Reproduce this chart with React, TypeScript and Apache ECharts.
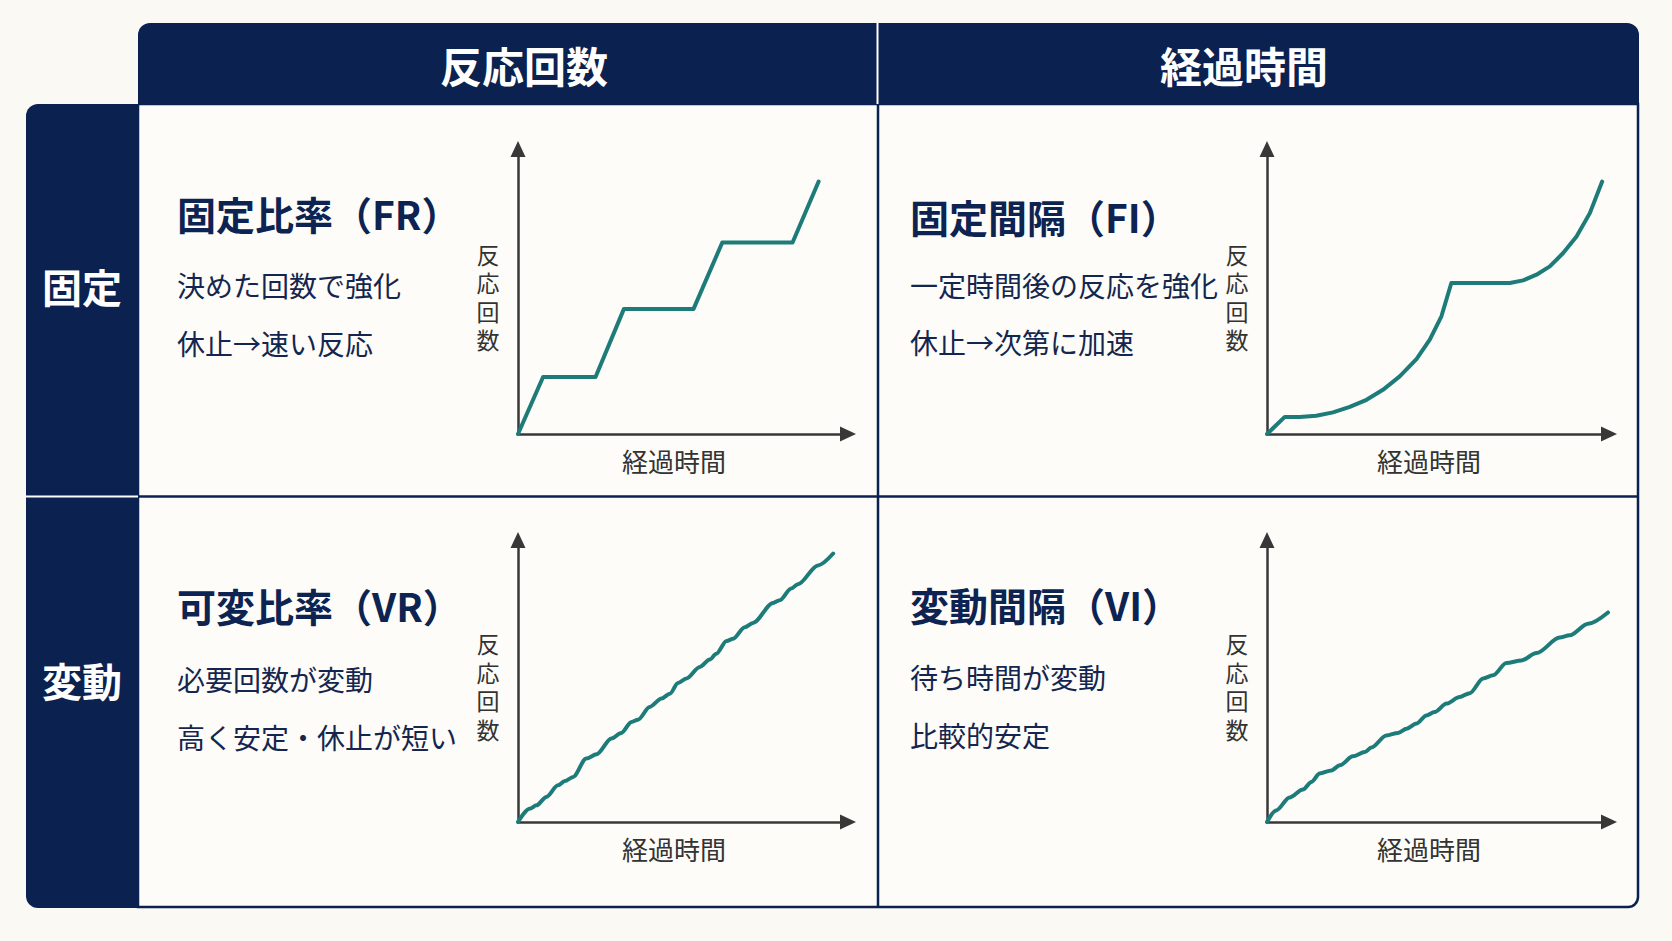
import React, { useEffect, useRef } from "react";
import * as echarts from "echarts";

// ---------- text content ----------
const columnHeaders = ["反応回数", "経過時間"];
const rowHeaders = ["固定", "変動"];
const cellTitles = ["固定比率（FR）", "固定間隔（FI）", "可変比率（VR）", "変動間隔（VI）"];
const cellLine1 = ["決めた回数で強化", "一定時間後の反応を強化", "必要回数が変動", "待ち時間が変動"];
const cellLine2 = ["休止→速い反応", "休止→次第に加速", "高く安定・休止が短い", "比較的安定"];
const yAxisTitle = "反応回数";
const xAxisTitle = "経過時間";

// ---------- data (x: elapsed time, y: cumulative responses; 0..100 scale) ----------
const frData = [
  [0, 0], [7.6, 20], [23.5, 20], [32.1, 43.9], [53.2, 43.9],
  [61.9, 67.2], [83.2, 67.2], [91.1, 88.6],
];
const fiData = [
  [0, 0], [5.2, 6.0], [9.6, 6.0], [14.4, 6.4], [19.3, 7.6], [24.2, 9.5],
  [29.1, 12.0], [33.9, 15.5], [38.8, 20.2], [43.7, 26.3], [47.6, 33.1],
  [51.0, 41.3], [53.9, 53.0], [71.0, 53.0], [74.9, 53.9], [78.8, 55.9],
  [82.7, 58.8], [86.6, 63.5], [90.5, 69.3], [94.4, 77.5], [98.0, 88.6],
];
const vrData = [
  [0, 0], [3.5, 4.7], [5.6, 5.9], [8.6, 8.9], [12.1, 13.0], [14.2, 14.5],
  [16.7, 16.0], [20.7, 22.5], [23.8, 24.0], [28.3, 29.6], [31.3, 31.6],
  [34.4, 35.5], [36.4, 36.3], [39.9, 40.8], [43.5, 43.8], [46.0, 45.5],
  [48.5, 49.3], [51.0, 50.9], [55.1, 55.0], [58.1, 57.6], [60.1, 59.7],
  [63.2, 64.2], [65.2, 65.0], [68.7, 69.1], [71.2, 70.6], [77.3, 77.7],
  [79.3, 78.6], [82.8, 82.8], [84.8, 84.3], [90.9, 91.0], [95.5, 95.2],
];
const viData = [
  [0, 0], [2.7, 4.1], [6.6, 8.7], [10.5, 11.5], [13.0, 14.2], [15.4, 17.2],
  [18.8, 18.3], [21.3, 20.1], [25.1, 23.3], [28.6, 24.8], [30.5, 26.4],
  [34.9, 30.7], [38.3, 31.6], [40.8, 33.1], [43.7, 34.9], [46.6, 37.8],
  [49.0, 39.0], [52.5, 42.0], [56.3, 44.3], [59.3, 45.7], [63.2, 50.9],
  [66.1, 52.0], [70.0, 56.4], [74.4, 57.3], [78.8, 59.9], [85.6, 65.4],
  [88.5, 66.2], [93.9, 70.3], [99.7, 74.3],
];
const seriesData = [frData, fiData, vrData, viData];
const seriesSmooth = [false, false, 0.3, 0.3];

// ---------- layout & style ----------
const NAVY = "#0b2150";
const TITLE_COLOR = "#0d2352";
const BODY_TEXT = "#14264f";
const TEAL = "#1d7c79";
const AXIS = "#383838";
const BG = "#fbf9f4";
const CELL_BG = "#fdfcf8";
const FONT = "'Noto Sans CJK JP', 'Noto Sans', sans-serif";

const GRIDS = [
  { left: 518, top: 149, width: 330, height: 285 },
  { left: 1267, top: 149, width: 342, height: 285 },
  { left: 518, top: 540, width: 330, height: 282 },
  { left: 1267, top: 540, width: 342, height: 282 },
];
const TEXT_POS = [
  { x: 177, title: 213, l1: 285, l2: 343 },
  { x: 910, title: 216, l1: 285, l2: 342 },
  { x: 177, title: 605, l1: 679, l2: 737 },
  { x: 910, title: 604, l1: 677, l2: 735 },
];
const HEADER_CENTERS = [524, 1244];
const ROW_LABEL_Y = [286, 680];

function buildOption(): any {
  const graphic: any[] = [];

  // table body
  graphic.push({
    type: "rect", z: -10,
    shape: { x: 138, y: 104, width: 1500, height: 803, r: [0, 0, 10, 0] },
    style: { fill: CELL_BG, stroke: NAVY, lineWidth: 2.5 },
  });
  // header band
  graphic.push({
    type: "rect", z: -9,
    shape: { x: 138, y: 23, width: 1501, height: 81, r: [12, 12, 0, 0] },
    style: { fill: NAVY },
  });
  // left band
  graphic.push({
    type: "rect", z: -9,
    shape: { x: 26, y: 104, width: 113, height: 804, r: [12, 0, 0, 12] },
    style: { fill: NAVY },
  });
  // dividers
  graphic.push({
    type: "line", z: -8,
    shape: { x1: 878, y1: 104, x2: 878, y2: 907 },
    style: { stroke: NAVY, lineWidth: 2.5 },
  });
  graphic.push({
    type: "line", z: -8,
    shape: { x1: 138, y1: 496.5, x2: 1638, y2: 496.5 },
    style: { stroke: NAVY, lineWidth: 2.5 },
  });
  graphic.push({
    type: "line", z: -8,
    shape: { x1: 877.5, y1: 23, x2: 877.5, y2: 104 },
    style: { stroke: "#ffffff", lineWidth: 2 },
  });
  graphic.push({
    type: "line", z: -8,
    shape: { x1: 26, y1: 496.5, x2: 138, y2: 496.5 },
    style: { stroke: "#ffffff", lineWidth: 2 },
  });

  // header texts
  columnHeaders.forEach((t, i) => {
    graphic.push({
      type: "text", z: 10, x: HEADER_CENTERS[i], y: 64,
      style: {
        text: t, fill: "#ffffff", fontSize: 42, fontWeight: "bold",
        fontFamily: FONT, align: "center", verticalAlign: "middle",
      },
    });
  });
  rowHeaders.forEach((t, i) => {
    graphic.push({
      type: "text", z: 10, x: 82, y: ROW_LABEL_Y[i],
      style: {
        text: t, fill: "#ffffff", fontSize: 40, fontWeight: "bold",
        fontFamily: FONT, align: "center", verticalAlign: "middle",
      },
    });
  });

  // cell texts
  TEXT_POS.forEach((p, i) => {
    graphic.push({
      type: "text", z: 10, x: p.x, y: p.title,
      style: {
        text: cellTitles[i], fill: TITLE_COLOR, fontSize: 39, fontWeight: "bold",
        fontFamily: FONT, align: "left", verticalAlign: "middle",
      },
    });
    graphic.push({
      type: "text", z: 10, x: p.x, y: p.l1,
      style: {
        text: cellLine1[i], fill: BODY_TEXT, fontSize: 28,
        fontFamily: FONT, align: "left", verticalAlign: "middle",
      },
    });
    graphic.push({
      type: "text", z: 10, x: p.x, y: p.l2,
      style: {
        text: cellLine2[i], fill: BODY_TEXT, fontSize: 28,
        fontFamily: FONT, align: "left", verticalAlign: "middle",
      },
    });
  });

  // axis titles
  GRIDS.forEach((g) => {
    graphic.push({
      type: "text", z: 10, x: g.left - 30, y: g.top + g.height / 2 + 5,
      style: {
        text: yAxisTitle.split("").join("\n"), fill: "#333333", fontSize: 23,
        lineHeight: 28.5, fontFamily: FONT, align: "center", verticalAlign: "middle",
      },
    });
    graphic.push({
      type: "text", z: 10, x: g.left + g.width / 2 - 9, y: g.top + g.height + 26,
      style: {
        text: xAxisTitle, fill: "#333333", fontSize: 26,
        fontFamily: FONT, align: "center", verticalAlign: "middle",
      },
    });
  });

  const axisCommon = {
    type: "value",
    min: 0,
    max: 100,
    axisTick: { show: false },
    axisLabel: { show: false },
    splitLine: { show: false },
    axisLine: {
      show: true,
      onZero: false,
      symbol: ["none", "triangle"],
      symbolSize: [15, 16],
      lineStyle: { color: AXIS, width: 2.5 },
    },
  };

  return {
    animation: false,
    backgroundColor: BG,
    grid: GRIDS.map((g) => ({ ...g, containLabel: false })),
    xAxis: GRIDS.map((_, i) => ({ ...axisCommon, gridIndex: i })),
    yAxis: GRIDS.map((_, i) => ({ ...axisCommon, gridIndex: i })),
    series: seriesData.map((d, i) => ({
      type: "line",
      xAxisIndex: i,
      yAxisIndex: i,
      data: d,
      showSymbol: false,
      smooth: seriesSmooth[i],
      smoothMonotone: "x",
      lineStyle: { color: TEAL, width: 4, cap: "round", join: "round" },
      z: 3,
    })),
    graphic,
  };
}

export default function App() {
  const ref = useRef<HTMLDivElement>(null);
  useEffect(() => {
    if (!ref.current) return;
    const chart = echarts.init(ref.current, null, { renderer: "svg" });
    chart.setOption(buildOption());
    return () => chart.dispose();
  }, []);
  return (
    <div
      ref={ref}
      style={{ position: "absolute", left: 0, top: 0, width: 1672, height: 941 }}
    />
  );
}
